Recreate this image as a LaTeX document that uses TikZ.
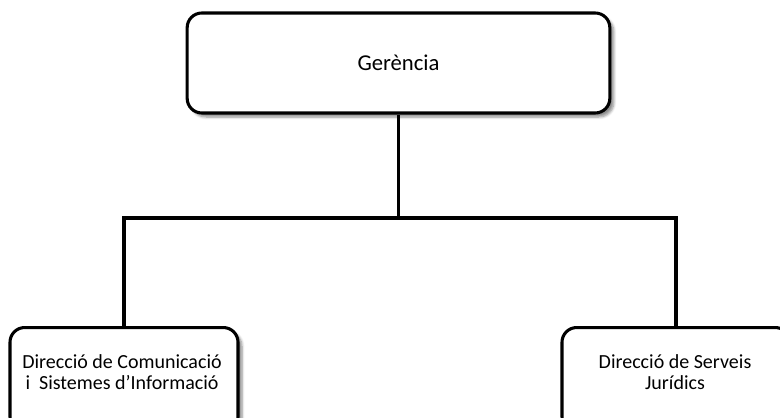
\documentclass[tikz,border=0pt]{standalone}
\usepackage{fontspec}
\setmainfont{Carlito}
\usetikzlibrary{shadows.blur}
\begin{document}
\begin{tikzpicture}[x=0.75pt,y=-0.75pt,
  orgbox/.style={draw=black,line width=2.3pt,rounded corners=11pt,fill=white,
    align=center,inner sep=0pt,
    blur shadow={shadow xshift=3pt,shadow yshift=-3pt,shadow blur steps=6,shadow opacity=45}},
  link/.style={draw=black,line width=2.3pt},
  lbl/.style={font=\fontsize{15}{16}\selectfont,align=center}]
\useasboundingbox (0,0) rectangle (780,417);
\clip (0,0) rectangle (780,417);
\node[orgbox,minimum width=317pt,minimum height=75pt,font=\fontsize{17}{19}\selectfont] (ger) at (398.5,63) {Gerència};
\node[orgbox,minimum width=171pt,minimum height=78pt,anchor=north] (dci) at (124,326) {};
\node[orgbox,minimum width=171pt,minimum height=78pt,anchor=north] (dsj) at (676,326) {};
\node[lbl] (tdci) at (122,372) {Direcció de Comunicació\\i\ \ Sistemes d’Informació};
\node[lbl] (tdsj) at (675,372) {Direcció de Serveis\\Jurídics};
\coordinate (mid) at (398.5,218);
\draw[link] (ger.south) -- (mid);
\draw[link] (mid) -| (dci.north);
\draw[link] (mid) -| (dsj.north);
\end{tikzpicture}
\end{document}
